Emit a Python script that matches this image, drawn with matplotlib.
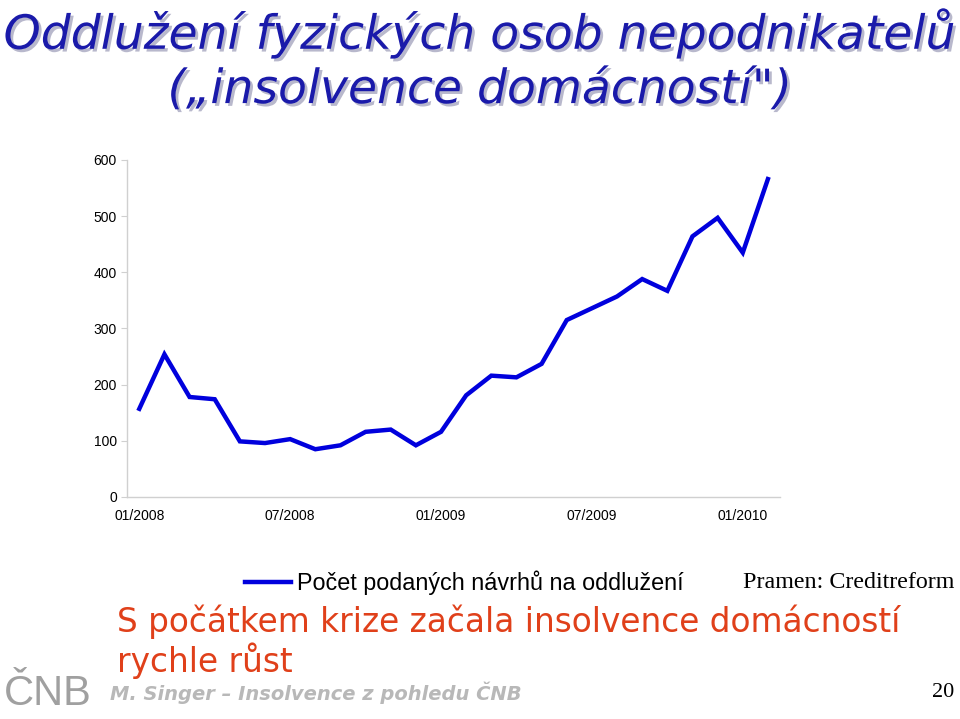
import matplotlib
matplotlib.use("Agg")
import matplotlib.pyplot as plt
import matplotlib.patheffects as pe

# Počet podaných návrhů na oddlužení, měsíčně 01/2008 - 02/2010
months = list(range(26))
values = [157, 254, 178, 174, 99, 96, 103, 85, 92, 116, 120, 92, 116,
          181, 216, 213, 237, 315, 336, 357, 388, 367, 464, 497, 435, 566]
tick_pos = [0, 6, 12, 18, 24]
tick_labels = ["01/2008", "07/2008", "01/2009", "07/2009", "01/2010"]
y_ticks = [0, 100, 200, 300, 400, 500, 600]

fig = plt.figure(figsize=(9.6, 7.19), dpi=100)
ax = fig.add_axes([0.132, 0.3088, 0.681, 0.4687])

line, = ax.plot(months, values, color="#0000dd", linewidth=3.2,
                solid_joinstyle="miter", label="Počet podaných návrhů na oddlužení")
ax.set_xlim(-0.5, 25.5)
ax.set_ylim(0, 600)
ax.set_yticks(y_ticks)
ax.set_xticks(tick_pos)
ax.set_xticklabels(tick_labels)
for s in ["top", "right"]:
    ax.spines[s].set_visible(False)
for s in ["left", "bottom"]:
    ax.spines[s].set_color("#d0d0d0")
    ax.spines[s].set_linewidth(1)
ax.tick_params(axis="y", length=4, color="#d0d0d0", labelsize=10, pad=3)
ax.tick_params(axis="x", length=0, labelsize=10, pad=9)
for lab in ax.get_xticklabels() + ax.get_yticklabels():
    lab.set_fontfamily("Liberation Sans")

# nadpis se stínem
shadow = [pe.SimplePatchShadow(offset=(2, -2), shadow_rgbFace="#b8b8cc", alpha=1), pe.Normal()]
title_kw = dict(ha="center", va="center", fontsize=34, style="italic",
                color="#1a1aaa", family="DejaVu Sans", path_effects=shadow)
fig.text(0.5, 0.953, "Oddlužení fyzických osob nepodnikatelů", **title_kw)
fig.text(0.5, 0.874, "(„insolvence domácností\")", **title_kw)

fig.legend(handles=[line], loc="center left", bbox_to_anchor=(0.255, 0.19),
           frameon=False, handlelength=2.0, handletextpad=0.25,
           borderpad=0, borderaxespad=0, prop={"family": "Liberation Sans", "size": 16.8})

fig.text(0.994, 0.19, "Pramen: Creditreform", ha="right", va="center",
         fontsize=17.3, family="Liberation Serif")

fig.text(0.122, 0.135, "S počátkem krize začala insolvence domácností",
         ha="left", va="center", fontsize=23.6, color="#e0401a", family="DejaVu Sans")
fig.text(0.122, 0.081, "rychle růst",
         ha="left", va="center", fontsize=23.6, color="#e0401a", family="DejaVu Sans")

fig.text(0.115, 0.037, "M. Singer – Insolvence z pohledu ČNB", ha="left", va="center",
         fontsize=14, color="#b8b8b8", style="italic", weight="bold", family="DejaVu Sans")
fig.text(0.994, 0.037, "20", ha="right", va="center", fontsize=16, family="Liberation Serif")
fig.text(0.004, 0.035, "ČNB", ha="left", va="center", fontsize=30, color="#a0a0a0",
         family="Liberation Sans")

fig.savefig("out.png", dpi=100)
